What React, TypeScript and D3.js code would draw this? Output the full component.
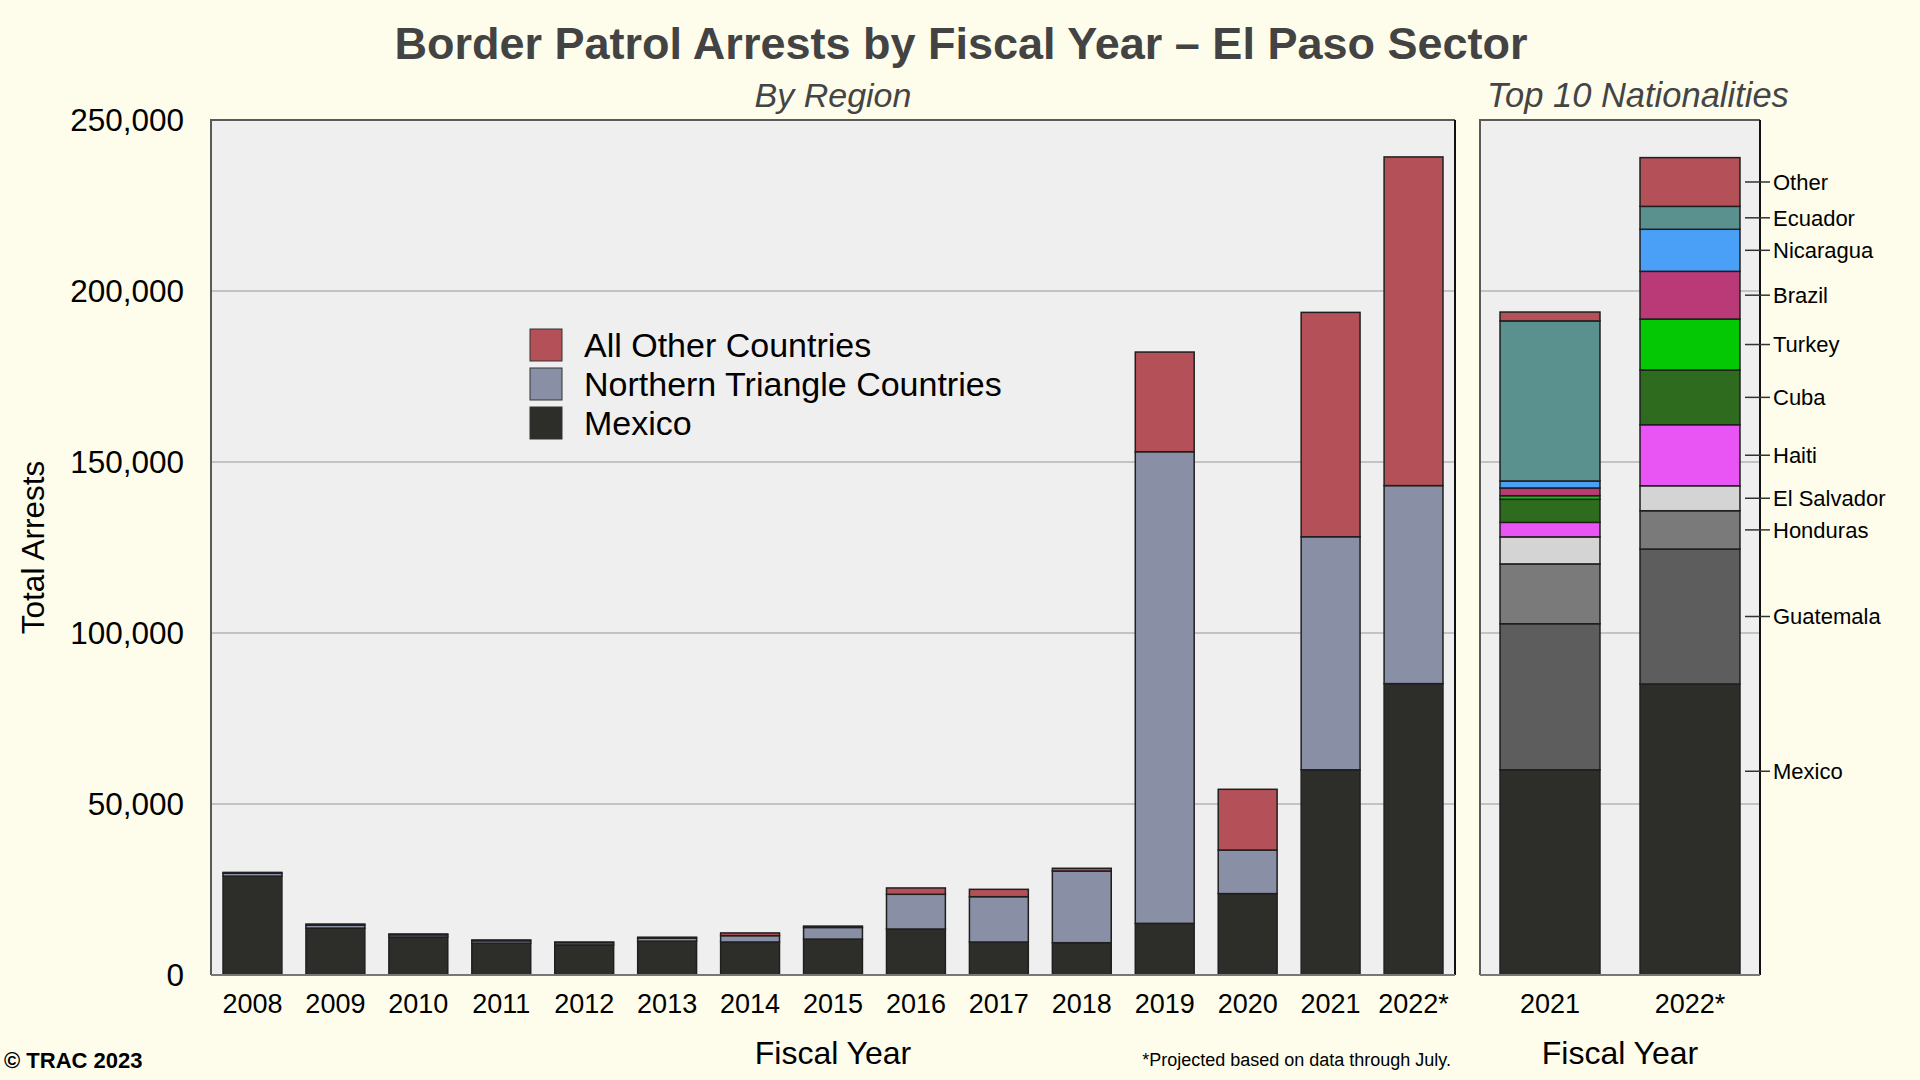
import React, { useEffect } from "react";
import * as d3 from "d3";

const years = ["2008", "2009", "2010", "2011", "2012", "2013", "2014", "2015", "2016", "2017", "2018", "2019", "2020", "2021", "2022*"];
const mexico = [28900, 13700, 11100, 9300, 8800, 9900, 9650, 10500, 13450, 9650, 9450, 15100, 23800, 60000, 85200];
const northernTriangle = [850, 900, 650, 700, 650, 900, 1850, 3400, 10150, 13250, 20950, 137900, 12750, 68150, 57900];
const otherCountries = [250, 300, 250, 250, 200, 250, 800, 400, 1850, 2150, 800, 29150, 17750, 65600, 96100];
const regionNames = ["Mexico", "Northern Triangle Countries", "All Other Countries"];
const regionColors = ["#2d2e2a", "#8990a5", "#b45158"];

const natYears = ["2021", "2022*"];
const nationalities = ["Mexico", "Guatemala", "Honduras", "El Salvador", "Haiti", "Cuba", "Turkey", "Brazil", "Nicaragua", "Ecuador", "Other"];
const nat2021 = [60000, 42700, 17500, 7900, 4250, 6750, 1050, 2250, 2050, 46800, 2600];
const nat2022 = [85100, 39450, 11200, 7300, 17850, 16000, 14900, 13950, 12300, 6700, 14250];
const natColors = ["#2d2e2a", "#5d5d5d", "#7a7a7a", "#d4d4d4", "#e954f4", "#2e6b1f", "#04c804", "#b93a77", "#4aa0f7", "#5a918f", "#b45158"];

const yTicks = [0, 50000, 100000, 150000, 200000, 250000];

const FONT = "'Liberation Sans', Arial, Helvetica, sans-serif";

export default function App() {
  useEffect(() => {
    document.body.style.margin = "0";
    document.body.style.background = "#fefdeb";
  }, []);

  const W = 1920, H = 1080;
  const top = 120, bottom = 975;
  const L = { x0: 211, x1: 1455 };
  const R = { x0: 1480, x1: 1760 };

  const y = d3.scaleLinear().domain([0, 250000]).range([bottom, top]);
  const xL = d3.scaleBand<string>().domain(years).range([L.x0, L.x1]).paddingInner(0.29).paddingOuter(0.145);
  const xR = d3.scaleBand<string>().domain(natYears).range([R.x0, R.x1]).paddingInner(0.286).paddingOuter(0.143);

  const regionTable = years.map((yr, i) => ({ year: yr, Mexico: mexico[i], "Northern Triangle Countries": northernTriangle[i], "All Other Countries": otherCountries[i] }));
  const regionStack = d3.stack<any>().keys(regionNames)(regionTable);

  const natTable = natYears.map((yr, j) => {
    const row: any = { year: yr };
    nationalities.forEach((n, i) => (row[n] = j === 0 ? nat2021[i] : nat2022[i]));
    return row;
  });
  const natStack = d3.stack<any>().keys(nationalities)(natTable);

  const fmt = d3.format(",");
  const barStroke = "#1f1f1f";

  const legendItems = [2, 1, 0];

  return (
    <svg width={W} height={H} style={{ position: "absolute", left: 0, top: 0, display: "block" }} fontFamily={FONT}>
      <rect x={0} y={0} width={W} height={H} fill="#fefdeb" />
      <text x={961} y={59} textAnchor="middle" fontSize={45} fontWeight="bold" fill="#434343">
        Border Patrol Arrests by Fiscal Year – El Paso Sector
      </text>
      <text x={(L.x0 + L.x1) / 2} y={107} textAnchor="middle" fontSize={34} fontStyle="italic" fill="#444">By Region</text>
      <text x={1638} y={107} textAnchor="middle" fontSize={34.5} fontStyle="italic" fill="#444">Top 10 Nationalities</text>

      {/* Left panel */}
      <rect x={L.x0} y={top} width={L.x1 - L.x0} height={bottom - top} fill="#efefef" />
      {yTicks.slice(1, -1).map((t) => (
        <line key={"gl" + t} x1={L.x0} x2={L.x1} y1={y(t)} y2={y(t)} stroke="#b5b5b5" strokeWidth={1.5} />
      ))}
      {yTicks.map((t) => (
        <text key={"yt" + t} x={184} y={y(t)} dy="0.36em" textAnchor="end" fontSize={31.5} fill="#000">{fmt(t)}</text>
      ))}
      {regionStack.map((s, si) => (
        <g key={"rs" + si} fill={regionColors[si]}>
          {s.map((d, i) => (
            <rect key={i} x={xL(years[i])} y={y(d[1])} width={xL.bandwidth()} height={y(d[0]) - y(d[1])} stroke={barStroke} strokeWidth={1.5} />
          ))}
        </g>
      ))}
      <path d={`M${L.x0},${bottom}V${top}H${L.x1}`} fill="none" stroke="#5a5a5a" strokeWidth={2} />
      <line x1={L.x1} x2={L.x1} y1={top} y2={bottom} stroke="#111" strokeWidth={2} />
      <line x1={L.x0} x2={L.x1} y1={bottom} y2={bottom} stroke="#777" strokeWidth={2} />
      {years.map((yr) => (
        <text key={"xt" + yr} x={(xL(yr) as number) + xL.bandwidth() / 2} y={1013} textAnchor="middle" fontSize={27} fill="#000">{yr}</text>
      ))}
      <text x={(L.x0 + L.x1) / 2} y={1064} textAnchor="middle" fontSize={32} fill="#000">Fiscal Year</text>
      <text transform={`translate(44,${(top + bottom) / 2}) rotate(-90)`} textAnchor="middle" fontSize={31.5} fill="#000">Total Arrests</text>

      {/* Legend */}
      {legendItems.map((k, i) => (
        <g key={"lg" + k} transform={`translate(530,${329 + i * 39})`}>
          <rect x={0} y={0} width={32} height={32} fill={regionColors[k]} stroke="#333" strokeWidth={1} />
          <text x={54} y={28} fontSize={34} fill="#000">{regionNames[k]}</text>
        </g>
      ))}

      {/* Right panel */}
      <rect x={R.x0} y={top} width={R.x1 - R.x0} height={bottom - top} fill="#efefef" />
      {yTicks.slice(1, -1).map((t) => (
        <line key={"rgl" + t} x1={R.x0} x2={R.x1} y1={y(t)} y2={y(t)} stroke="#b5b5b5" strokeWidth={1.5} />
      ))}
      {natStack.map((s, si) => (
        <g key={"ns" + si} fill={natColors[si]}>
          {s.map((d, i) => (
            <rect key={i} x={xR(natYears[i])} y={y(d[1])} width={xR.bandwidth()} height={y(d[0]) - y(d[1])} stroke={barStroke} strokeWidth={1.5} />
          ))}
        </g>
      ))}
      <path d={`M${R.x0},${bottom}V${top}H${R.x1}`} fill="none" stroke="#5a5a5a" strokeWidth={2} />
      <line x1={R.x1} x2={R.x1} y1={top} y2={bottom} stroke="#111" strokeWidth={2} />
      <line x1={R.x0} x2={R.x1} y1={bottom} y2={bottom} stroke="#777" strokeWidth={2} />
      {natStack.map((s, si) => {
        const d = s[1];
        // label anchor: middle of the 2022 segment (bottom segment label sits higher, as in the original)
        const v = si === 0 ? d[1] * 0.7 : (d[0] + d[1]) / 2;
        const ly = y(v);
        return (
          <g key={"nl" + si}>
            <line x1={1745} x2={1770} y1={ly} y2={ly} stroke="#333" strokeWidth={1.5} />
            <text x={1773} y={ly} dy="0.36em" fontSize={22} fill="#000">{nationalities[si]}</text>
          </g>
        );
      })}
      {natYears.map((yr) => (
        <text key={"rxt" + yr} x={(xR(yr) as number) + xR.bandwidth() / 2} y={1013} textAnchor="middle" fontSize={27} fill="#000">{yr}</text>
      ))}
      <text x={(R.x0 + R.x1) / 2} y={1064} textAnchor="middle" fontSize={32} fill="#000">Fiscal Year</text>

      <text x={1451} y={1066} textAnchor="end" fontSize={18} fill="#000">*Projected based on data through July.</text>
      <text x={4} y={1068} fontSize={22} fontWeight="bold" fill="#000">© TRAC 2023</text>
    </svg>
  );
}
